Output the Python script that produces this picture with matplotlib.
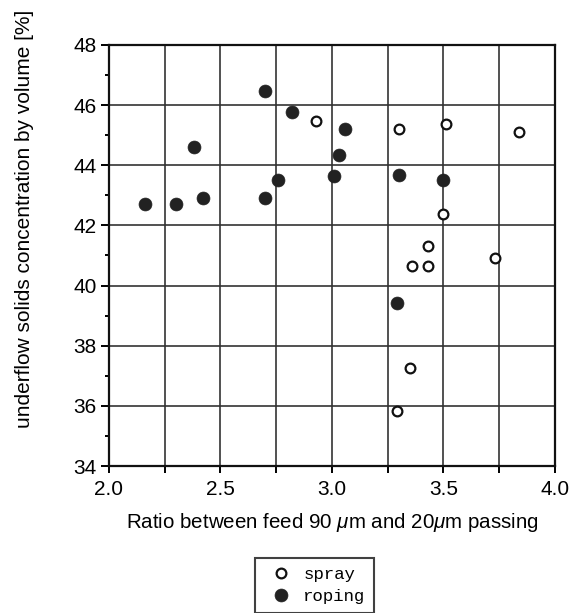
import matplotlib.pyplot as plt
import numpy as np

plt.rcParams['font.family'] = ['Liberation Sans', 'DejaVu Sans']
plt.rcParams['mathtext.fontset'] = 'custom'
plt.rcParams['mathtext.it'] = 'Liberation Sans:italic'
plt.rcParams['mathtext.rm'] = 'Liberation Sans'

# spray points (open circles)
spray_ratio = [2.93, 3.30, 3.51, 3.84, 3.50, 3.43, 3.36, 3.43, 3.73, 3.35, 3.29]
spray_conc = [45.47, 45.22, 45.36, 45.12, 42.38, 41.32, 40.66, 40.66, 40.93, 37.27, 35.84]

# roping points (filled circles)
roping_ratio = [2.16, 2.30, 2.38, 2.42, 2.70, 2.70, 2.76, 2.82, 3.06, 3.03, 3.01, 3.30, 3.50, 3.29]
roping_conc = [42.71, 42.71, 44.60, 42.92, 46.48, 42.92, 43.50, 45.77, 45.22, 44.35, 43.65, 43.69, 43.51, 39.43]

fig = plt.figure(figsize=(5.84, 6.13), dpi=100)
ax = fig.add_axes([0.1866, 0.2398, 0.7637, 0.6868])

ax.plot(spray_ratio, spray_conc, 'o', markersize=7, markerfacecolor='white',
        markeredgecolor='#111111', markeredgewidth=1.6, label='spray', zorder=3)
ax.plot(roping_ratio, roping_conc, 'o', markersize=9.3, markerfacecolor='#222222',
        markeredgecolor='#222222', markeredgewidth=0.5, label='roping', zorder=3)

ax.set_xlim(2.0, 4.0)
ax.set_ylim(34, 48)
ax.set_xticks(np.arange(2.0, 4.01, 0.5))
ax.set_xticks(np.arange(2.25, 4.0, 0.5), minor=True)
ax.set_yticks(np.arange(34, 48.1, 2))
ax.set_yticks(np.arange(35, 48, 2), minor=True)
ax.xaxis.set_major_formatter(plt.FormatStrFormatter('%.1f'))

ax.grid(True, which='major', color='#333333', linewidth=1.2)
ax.grid(True, which='minor', axis='x', color='#333333', linewidth=1.2)
ax.set_axisbelow(True)

for s in ax.spines.values():
    s.set_linewidth(1.6)
    s.set_color('#111111')

ax.tick_params(axis='both', which='major', labelsize=15, width=1.4, length=5, direction='out')
ax.tick_params(axis='y', which='major', length=6, pad=3)
ax.tick_params(axis='x', which='major', pad=5)
ax.tick_params(axis='x', which='minor', length=5, width=1.4)
ax.tick_params(axis='y', which='minor', length=3, width=1.4)

ax.set_xlabel(r'Ratio between feed 90 $\mu$m and 20$\mu$m passing', fontsize=14.8, labelpad=9)
ax.set_ylabel('underflow solids concentration by volume [%]', fontsize=15)
ax.yaxis.set_label_coords(-0.168, 0.587)

leg = fig.legend(loc='upper center', bbox_to_anchor=(0.5385, 1 - 558 / 613),
                 prop={'family': 'Liberation Mono', 'size': 12.5},
                 frameon=True, fancybox=False, edgecolor='#111111',
                 borderpad=0.5, handletextpad=0.3, labelspacing=0.4,
                 borderaxespad=0)
leg.get_frame().set_linewidth(1.5)

fig.savefig('out.png', dpi=100)
